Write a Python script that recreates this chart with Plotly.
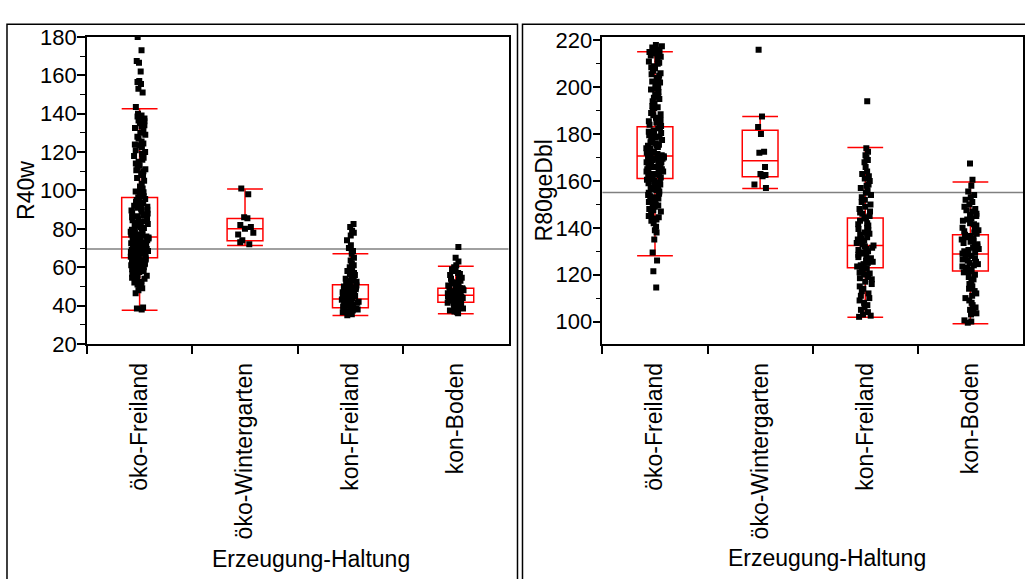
import plotly.graph_objects as go

# Group labels on the x axis
categories = ["öko-Freiland", "öko-Wintergarten", "kon-Freiland", "kon-Boden"]

# ---- R40w measurements per group ----
r40_oeko_frei = [
    180, 173, 167.5, 166.5, 162, 157, 156.5, 155.5, 153, 151,
    143.5, 140, 139, 138.5, 138, 137.5, 136.5, 136, 135, 134, 133.5, 132.5, 131, 130,
    129, 128, 127, 125.5, 124.5, 124, 123.5, 122.5, 121, 120, 119, 118, 117, 116, 115,
    114, 113, 112, 111, 110.5, 110, 109, 108, 106.5, 105, 103.5, 102, 101, 100.5,
    99.5, 99, 98, 97, 96.5,
    95.5, 95, 94.5, 94, 93.5, 93, 92.5, 92, 91.5, 91, 90.5, 90, 89.5, 89, 88.5, 88, 87.5,
    87, 86.5, 86, 85.5, 85, 84.5, 84, 83.5, 83, 82.5, 82, 81.5, 81, 80.5, 80, 79.5, 79,
    79, 78.5, 78, 78, 77.5, 77, 77, 76.5, 76.5, 76, 76,
    75.5, 75, 75, 74.5, 74, 74, 73.5, 73, 73, 72.5, 72, 72, 71.5, 71, 71, 70.5, 70, 70,
    69.5, 69, 69, 68.5, 68, 68, 67.5, 67, 67, 66.5, 66, 66, 65.5, 65.5, 65, 65, 64.8,
    64.5, 64, 64, 63.5, 63, 63, 62.5, 62, 62, 61.5, 61, 61, 60.5, 60, 60, 59.5, 59, 59,
    58.5, 58, 57.5, 57, 56.5, 56, 55.5, 55, 54.5, 54, 53, 52.5, 52, 51, 50.5, 50, 49,
    48, 46.5, 39, 38.5, 38,
]
r40_oeko_wint = [101, 98, 86, 85.5, 82, 81, 80, 78, 77, 74, 73, 72]
r40_kon_frei = [
    82.5, 81, 79, 78, 76.5, 74, 71.5, 70, 68.5, 67, 65, 63.5, 62, 61, 60, 59.5, 58.5,
    58, 57, 56.5, 56, 55, 54.5, 54, 53.5, 53, 52.5, 52, 51.5, 51, 50.5, 50, 50, 49.5,
    49, 49, 48.5, 48, 48, 47.5, 47, 47, 46.5, 46, 46, 45.5, 45, 45, 44.5, 44, 44, 43.5,
    43.5, 43, 43, 42.5, 42, 42, 41.5, 41, 41, 40.5, 40, 40, 39.5, 39, 39, 38.5, 38, 38,
    37.5, 37, 37, 36.5, 36, 35.5, 35,
]
r40_kon_boden = [
    70.5, 65, 63, 61, 60, 59, 58, 57, 56.5, 56, 55, 54.5, 54, 53.5, 53, 52.5, 52, 51.5,
    51, 50.5, 50, 50, 49.5, 49, 49, 48.5, 48, 48, 47.5, 47, 47, 46.5, 46, 46, 45.5,
    45.5, 45, 45, 44.5, 44, 44, 43.5, 43, 43, 42.5, 42, 42, 41.5, 41, 41, 40.5, 40, 40,
    39.5, 39, 39, 38.5, 38, 37.5, 37, 36.5, 36,
]

# Outlier box statistics for R40w: q1, median, q3, whisker ends
r40_q1 = [65, 73.8, 38.9, 41.8]
r40_median = [75.8, 80, 43.4, 45.4]
r40_q3 = [96.3, 85.4, 50.9, 49.0]
r40_lower = [37.6, 71.3, 34.8, 35.8]
r40_upper = [142.6, 100.7, 67, 60.5]
r40_ref = 69.5

# ---- R80geDbl measurements per group ----
r80_oeko_frei = [
    218, 217.5, 217, 216.5, 216, 215.5, 215, 214.5, 214, 213.5, 213, 212, 211, 210.5,
    210, 209, 208.5, 208, 207, 206, 205.5, 205, 204, 203, 202.5, 202, 202, 201, 200,
    199.5, 199, 198, 197, 196, 195.5, 195, 194, 193, 192, 191.5, 191, 190, 189, 188.5,
    188, 187, 186, 185.5, 185, 184, 183.5, 183, 182.5,
    181.5, 181, 180.5, 180, 179.5, 179, 178.5, 178, 177.5, 177, 176.5, 176, 175.5, 175,
    175, 174.5, 174, 174, 173.5, 173, 173, 172.5, 172, 172, 171.5, 171, 171, 170.5, 170.5,
    170, 170, 169.5, 169.5, 169, 169, 168.5, 168, 168, 167.5, 167, 167, 166.5, 166,
    166, 165.5, 165, 165, 164.5, 164, 164, 163.5, 163, 163, 162.5, 162, 162, 161.5,
    161, 160.5, 160.5, 160,
    159.5, 159, 158.5, 158, 157.5, 157, 156.5, 156, 155.5, 155, 154.5, 154, 153.5, 153,
    152.5, 152, 151.5, 151, 150.5, 150, 149.5, 149, 148.5, 148, 147.5, 147, 146, 145,
    144.5, 144, 143.5, 143, 142, 140.5, 139, 138, 135, 129.5, 126, 121.5, 114.5,
]
r80_oeko_wint = [216, 187.5, 183, 180, 172.5, 172, 166, 163, 162.5, 162, 158.5, 157]
r80_kon_frei = [
    194, 174, 172.5, 171, 170, 169, 168, 166, 164, 163, 162, 161, 160, 158.5, 158, 157,
    156, 155, 154, 153, 152, 151, 150, 149, 148, 147, 146.5, 146, 145, 144.5, 144, 143,
    142, 141.5, 141, 140, 139.5, 139, 138, 137.5, 137, 136, 135.5, 135, 134.5, 134, 133.5,
    133, 132.5, 132, 131.5, 131, 130.5, 130, 129.5, 129, 128.5, 128, 127.5, 127, 126,
    125.5, 125, 124.5, 124, 123.5, 123, 122.5, 122, 121, 120.5, 120, 119, 118.5, 118,
    117, 116, 115, 114, 113, 112, 111, 110, 109, 108, 107, 106, 105, 104, 103, 102.5, 102,
]
r80_kon_boden = [
    167.5, 160.5, 158, 155.5, 154, 153, 152, 151, 150, 149, 148, 147.5, 147, 146, 145.5,
    145, 144, 143.5, 143, 142, 141.5, 141, 140, 139.5, 139, 138.5, 138, 137.5, 137, 136.5,
    136, 135.5, 135, 134.5, 134, 133.5, 133, 132.5, 132, 131.5, 131, 130.5, 130, 129.5,
    129, 128.5, 128, 127.5, 127, 126.5, 126, 125.5, 125, 124.5, 124, 123.5, 123, 122.5,
    122, 121.5, 121, 120, 119, 118, 117, 116, 115, 114, 113, 112, 111, 110, 109, 108,
    107, 106, 105, 104, 103.5, 103, 100.5, 100, 99.5,
]

# Outlier box statistics for R80geDbl
r80_q1 = [161.1, 161.8, 123.0, 121.6]
r80_median = [170.7, 168.6, 132.5, 128.8]
r80_q3 = [183.1, 181.6, 144.2, 137.0]
r80_lower = [128.1, 156.8, 101.8, 99.0]
r80_upper = [215.2, 187.5, 174.3, 159.6]
r80_ref = 155.1

# Axis settings
r40_range = [20, 180]
r80_range = [90.4, 221.5]
r40_ticks = [20, 40, 60, 80, 100, 120, 140, 160, 180]
r80_ticks = [100, 120, 140, 160, 180, 200, 220]

W, H = 1025, 579
FONT = "Liberation Sans, Arial, sans-serif"
FS_Y = 22
FS_X = 23


def px_x(p):
    return p / W


def px_y(p):
    return 1 - p / H


fig = go.Figure()


def add_panel(groups, q1, med, q3, lo, hi, xa, ya):
    # red outlier boxes with capped whiskers
    fig.add_trace(go.Box(
        x=categories, q1=q1, median=med, q3=q3, lowerfence=lo, upperfence=hi,
        boxpoints=False, whiskerwidth=1, width=0.34,
        line=dict(color="#ff0000", width=1.5), fillcolor="rgba(0,0,0,0)",
        xaxis=xa, yaxis=ya, showlegend=False, hoverinfo="skip",
    ))
    # jittered raw points
    xs, ys = [], []
    for cat, vals in zip(categories, groups):
        xs += [cat] * len(vals)
        ys += vals
    fig.add_trace(go.Box(
        x=xs, y=ys, boxpoints="all", jitter=0.5, pointpos=0, width=0.34,
        marker=dict(symbol="square", size=6, color="black"),
        line=dict(color="rgba(0,0,0,0)", width=0), fillcolor="rgba(0,0,0,0)",
        xaxis=xa, yaxis=ya, showlegend=False,
    ))


add_panel([r40_oeko_frei, r40_oeko_wint, r40_kon_frei, r40_kon_boden],
          r40_q1, r40_median, r40_q3, r40_lower, r40_upper, "x", "y")
add_panel([r80_oeko_frei, r80_oeko_wint, r80_kon_frei, r80_kon_boden],
          r80_q1, r80_median, r80_q3, r80_lower, r80_upper, "x2", "y2")

ydom = [px_y(347), px_y(26)]
xaxis_common = dict(
    type="category", categoryorder="array", categoryarray=categories,
    range=[-0.5, 3.5], tickangle=-90, ticks="outside", tickson="boundaries",
    ticklen=8, tickwidth=1.5, tickcolor="black", ticklabelstandoff=8,
    showline=True, linecolor="black", linewidth=1.5, mirror=True,
    showgrid=False, zeroline=False,
    tickfont=dict(family=FONT, size=FS_X, color="black"),
)
yaxis_common = dict(
    ticks="outside", ticklen=8, tickwidth=1.5, tickcolor="black", ticklabelstandoff=-4,
    showline=True, linecolor="black", linewidth=1.5, mirror=True,
    showgrid=False, zeroline=False,
    tickfont=dict(family=FONT, size=FS_Y, color="black"),
    minor=dict(ticks="outside", ticklen=5, tickwidth=1, tickcolor="black", dtick=10),
)

fig.update_layout(
    width=W, height=H, margin=dict(l=0, r=0, t=0, b=0),
    paper_bgcolor="white", plot_bgcolor="white",
    boxmode="overlay",
    xaxis=dict(domain=[px_x(87), px_x(509)], anchor="y", **xaxis_common),
    yaxis=dict(domain=ydom, anchor="x", range=r40_range, tickvals=r40_ticks,
               **yaxis_common),
    xaxis2=dict(domain=[px_x(603), px_x(1024)], anchor="y2", **xaxis_common),
    yaxis2=dict(domain=ydom, anchor="x2", range=r80_range, tickvals=r80_ticks,
                **yaxis_common),
)

# horizontal reference lines (overall mean)
for ref, xr, yr in [(r40_ref, "x domain", "y"), (r80_ref, "x2 domain", "y2")]:
    fig.add_shape(type="line", xref=xr, yref=yr, x0=0, x1=1, y0=ref, y1=ref,
                  line=dict(color="#808080", width=1.5), layer="below")

# outer report frames around each panel
for x0, x1 in [(7, 518), (523, 1032)]:
    fig.add_shape(type="rect", xref="paper", yref="paper",
                  x0=px_x(x0), x1=px_x(x1), y0=px_y(12.7), y1=px_y(600),
                  line=dict(color="black", width=1.5), fillcolor="rgba(0,0,0,0)")

# axis titles
for text, x, y, ang in [
    ("R40w", 26, 186, -90),
    ("R80geDbl", 544, 186, -90),
    ("Erzeugung-Haltung", 311.5, 572, 0),
    ("Erzeugung-Haltung", 827.5, 571, 0),
]:
    fig.add_annotation(text=text, xref="paper", yref="paper", x=px_x(x), y=px_y(y),
                       showarrow=False, textangle=ang, xanchor="center", yanchor="middle",
                       font=dict(family=FONT, size=FS_X, color="black"))

fig.write_html("out.html")
